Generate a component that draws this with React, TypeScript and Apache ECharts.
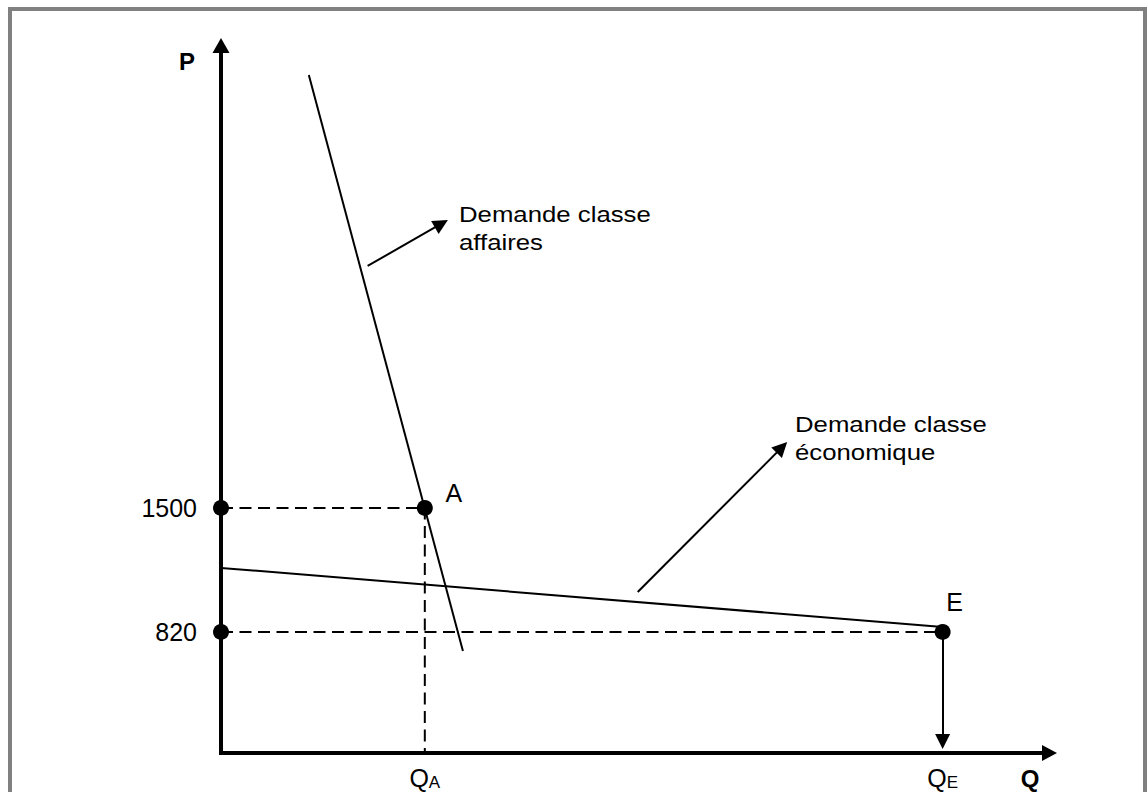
import React, { useEffect, useRef } from "react";
import * as echarts from "echarts";

// ---- data (schematic units) ----
const X_MIN = 0;
const X_MAX = 100;
const Y_MIN = 156;
const Y_MAX = 4036;

const priceTicks = [820, 1500];
const QA = 24.6;
const QE = 87.1;
const quantityTicks = [QA, QE];
const quantityTickNames = ["A", "E"];

const businessDemand = [
  [10.6, 3874],
  [29.2, 715],
];
const economyDemand = [
  [0, 1171],
  [87.1, 847],
];
const pointA = [QA, 1500];
const pointE = [QE, 820];
const axisDots = [
  [0, 1500],
  [0, 820],
];
const guideA = [
  [0, 1500],
  [QA, 1500],
  [QA, Y_MIN],
];
const guideE = [
  [0, 820],
  [QE, 820],
];
const pointerBusiness = [
  [17.7, 2827],
  [26.6, 3059],
];
const pointerEconomy = [
  [50.3, 1039],
  [67.7, 1832],
];
const dropE = [
  [QE, 820],
  [QE, 219],
];

const labelBusiness = "Demande classe\naffaires";
const labelEconomy = "Demande classe\néconomique";

const FONT = '"Liberation Sans", Arial, sans-serif';

export default function App() {
  const ref = useRef<HTMLDivElement>(null);

  useEffect(() => {
    if (!ref.current) return;
    const chart = echarts.init(ref.current, null, { renderer: "svg" });

    const textEl = (
      text: string,
      x: number,
      y: number,
      font: string,
      align: string,
      vAlign: string,
      extra: any = {},
      lineHeight?: number
    ) => {
      const style: any = {
        text,
        font,
        fill: "#000",
        align,
        textAlign: align,
        verticalAlign: vAlign,
        textVerticalAlign: vAlign,
      };
      if (lineHeight) {
        style.lineHeight = lineHeight;
        style.textLineHeight = lineHeight;
      }
      return { type: "text", x, y, z: 100, ...extra, style };
    };

    const option: any = {
      animation: false,
      backgroundColor: "#fff",
      grid: {
        left: 221,
        right: 97.5,
        top: 45.5,
        bottom: 39,
        containLabel: false,
        outerBoundsMode: "none",
      },
      xAxis: {
        type: "value",
        min: X_MIN,
        max: X_MAX,
        axisLine: {
          show: true,
          onZero: false,
          symbol: ["none", "triangle"],
          symbolSize: [16, 15],
          lineStyle: { color: "#000", width: 4, cap: "square" },
        },
        axisTick: { show: false },
        splitLine: { show: false },
        axisLabel: {
          show: true,
          customValues: quantityTicks,
          margin: 12,
          color: "#000",
          fontFamily: FONT,
          formatter: (v: number) => {
            let best = 0;
            quantityTicks.forEach((t, i) => {
              if (Math.abs(t - v) < Math.abs(quantityTicks[best] - v)) best = i;
            });
            return "{q|Q}{s|" + quantityTickNames[best] + "}";
          },
          rich: {
            q: {
              fontSize: 25,
              fontFamily: FONT,
              color: "#000",
              lineHeight: 26,
              verticalAlign: "top",
            },
            s: {
              fontSize: 17,
              fontFamily: FONT,
              color: "#000",
              lineHeight: 18,
              verticalAlign: "bottom",
            },
          },
        },
      },
      yAxis: {
        type: "value",
        min: Y_MIN,
        max: Y_MAX,
        axisLine: {
          show: true,
          onZero: false,
          symbol: ["none", "triangle"],
          symbolSize: [17, 15],
          lineStyle: { color: "#000", width: 4, cap: "square" },
        },
        axisTick: { show: false },
        splitLine: { show: false },
        axisLabel: {
          show: true,
          customValues: priceTicks,
          margin: 24,
          color: "#000",
          fontSize: 25,
          fontFamily: FONT,
          formatter: (v: number) => String(Math.round(v)),
        },
      },
      series: [
        {
          name: "guide A",
          type: "line",
          data: guideA,
          symbol: "none",
          clip: false,
          z: 1,
          lineStyle: { color: "#000", width: 2, type: [12, 6.5] },
        },
        {
          name: "guide E",
          type: "line",
          data: guideE,
          symbol: "none",
          clip: false,
          z: 1,
          lineStyle: { color: "#000", width: 2, type: [12, 6.5] },
        },
        {
          name: "Demande classe affaires",
          type: "line",
          data: businessDemand,
          symbol: "none",
          clip: false,
          z: 2,
          lineStyle: { color: "#000", width: 2 },
        },
        {
          name: "Demande classe économique",
          type: "line",
          data: economyDemand,
          symbol: "none",
          clip: false,
          z: 2,
          lineStyle: { color: "#000", width: 2 },
        },
        {
          name: "arrows",
          type: "lines",
          coordinateSystem: "cartesian2d",
          symbol: ["none", "triangle"],
          symbolSize: 15,
          z: 2,
          lineStyle: { color: "#000", width: 2, opacity: 1, curveness: 0 },
          data: [
            { coords: pointerBusiness },
            { coords: pointerEconomy },
            { coords: dropE },
          ],
        },
        {
          name: "points",
          type: "scatter",
          symbol: "circle",
          symbolSize: 16,
          clip: false,
          z: 3,
          itemStyle: { color: "#000", opacity: 1 },
          emphasis: { disabled: true },
          label: {
            show: false,
            position: "inside",
            color: "#000",
            opacity: 1,
            fontSize: 25,
            fontFamily: FONT,
          },
          data: [
            { value: axisDots[0] },
            { value: axisDots[1] },
            {
              value: pointA,
              label: { show: true, formatter: "A", offset: [29, -15] },
            },
            {
              value: pointE,
              label: { show: true, formatter: "E", offset: [12, -30] },
            },
          ],
        },
      ],
      graphic: [
        {
          type: "rect",
          z: 100,
          silent: true,
          shape: { x: 10, y: 9, width: 1135, height: 800 },
          style: { fill: "none", stroke: "#808080", lineWidth: 4 },
        },
        textEl("P", 187, 61, 'bold 24px "Liberation Sans", Arial, sans-serif', "center", "middle"),
        textEl("Q", 1030, 778, 'bold 24px "Liberation Sans", Arial, sans-serif', "center", "middle"),
        textEl(
          labelBusiness,
          459,
          200,
          '23px "Liberation Sans", Arial, sans-serif',
          "left",
          "top",
          { scaleX: 1.12 },
          28
        ),
        textEl(
          labelEconomy,
          795,
          410,
          '23px "Liberation Sans", Arial, sans-serif',
          "left",
          "top",
          { scaleX: 1.12 },
          28
        ),
      ],
    };

    chart.setOption(option);
    return () => chart.dispose();
  }, []);

  return (
    <div
      ref={ref}
      style={{ position: "fixed", left: 0, top: 0, width: 1147, height: 792 }}
    />
  );
}
